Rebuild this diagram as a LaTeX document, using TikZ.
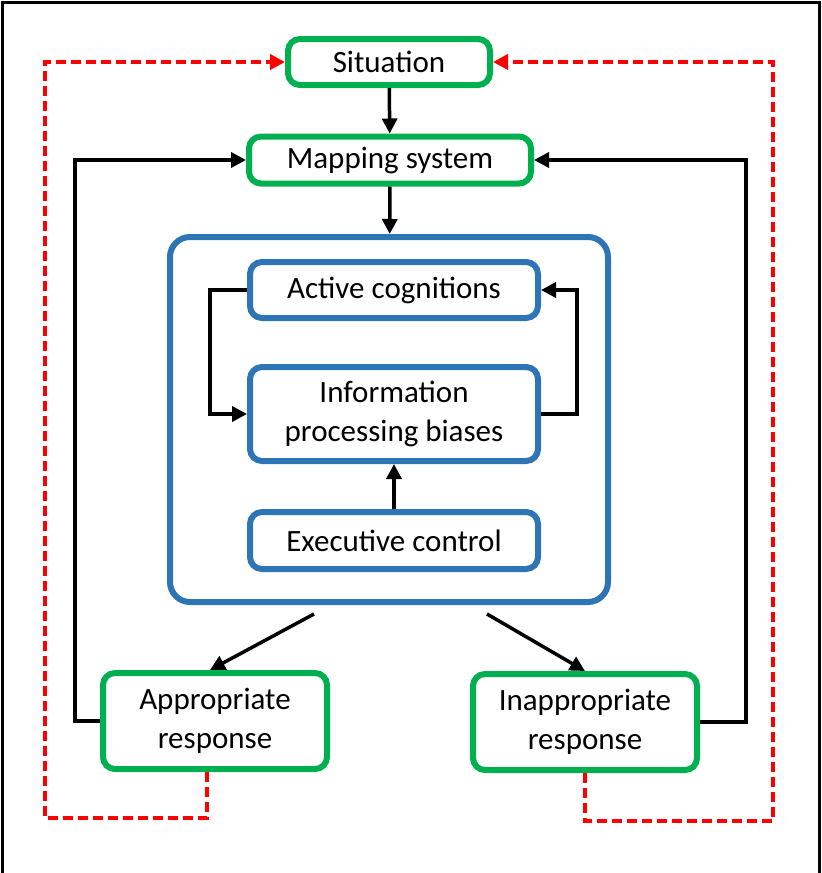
\documentclass[tikz,border=0pt]{standalone}
\usepackage{fontspec}
\setmainfont{Carlito}
\usetikzlibrary{arrows.meta}
\definecolor{boxgreen}{RGB}{0,176,80}
\definecolor{boxblue}{RGB}{46,117,182}
\definecolor{fbred}{RGB}{255,0,0}
\tikzset{
  greenbox/.style={draw=boxgreen, line width=6pt, rounded corners=12pt, fill=white,
                   inner sep=0pt, align=center, font=\fontsize{31}{39}\selectfont},
  bluebox/.style={greenbox, draw=boxblue},
  arr/.style={line width=3.5pt, -{Triangle[length=15pt,width=15pt]}},
  fback/.style={draw=fbred, line width=4pt, dash pattern=on 10pt off 5pt,
                -{Triangle[length=15pt,width=15pt]}, fbred}
}
\begin{document}
\begin{tikzpicture}[x=1pt, y=-1pt]
        \useasboundingbox (0,0) rectangle (822,873);                      %
        \draw [line width=3pt] (2,873) -- (2,2) -- (819,2) -- (819,873);  %frame
        \node [greenbox, minimum width=202pt, minimum height=46pt] (sit) at (389,62)  {Situation};       %
        \node [greenbox, minimum width=282pt, minimum height=47pt] (map) at (390,160) {Mapping system};  %
        \node [bluebox, rounded corners=20pt, minimum width=438pt, minimum height=365pt] (core) at (389,419.5) {}; %
        \node [bluebox, minimum width=288pt, minimum height=56pt] (act)  at (394,290) {Active cognitions};  %
        \node [bluebox, minimum width=288pt, minimum height=94pt] (info) at (394,414) {Information\\processing biases}; %
        \node [bluebox, minimum width=288pt, minimum height=57pt] (exec) at (394,540.5) {Executive control}; %
        \node [greenbox, minimum width=224pt, minimum height=96pt] (apr)   at (215,721) {Appropriate\\response};   %
        \node [greenbox, minimum width=224pt, minimum height=96pt] (inapr) at (585,722) {Inappropriate\\response}; %
        \coordinate (outL) at (314,614);                                  %
        \coordinate (outR) at (487,614);                                  %
        \coordinate (fbL)  at (45,62);                                    %
        \coordinate (fbR)  at (773,62);                                   %
        \draw [arr] (sit) -- (map);                                       %
        \draw [arr] (map) -- (core);                                      %
        \draw [arr] (act.west) -- ++(-37,0) |- (info.west);               %
        \draw [arr] (info.east) -- ++(36,0) |- (act.east);                %
        \draw [arr] (exec) -- (info);                                     %
        \draw [arr] (outL) -- ([xshift=-5pt]apr.north);                   %
        \draw [arr] (outR) -- (inapr.north);                              %
        \draw [arr] (apr.west) -- ++(-25,0) |- (map.west);                %
        \draw [arr] (inapr.east) -- ++(46,0) |- (map.east);               %
        \draw [fback] ([xshift=-8pt]apr.south) -- ++(0,46) -| (fbL) -- (sit.west);  %
        \draw [fback] (inapr.south) -- ++(0,48) -| (fbR) -- (sit.east);   %
\end{tikzpicture}
\end{document}
